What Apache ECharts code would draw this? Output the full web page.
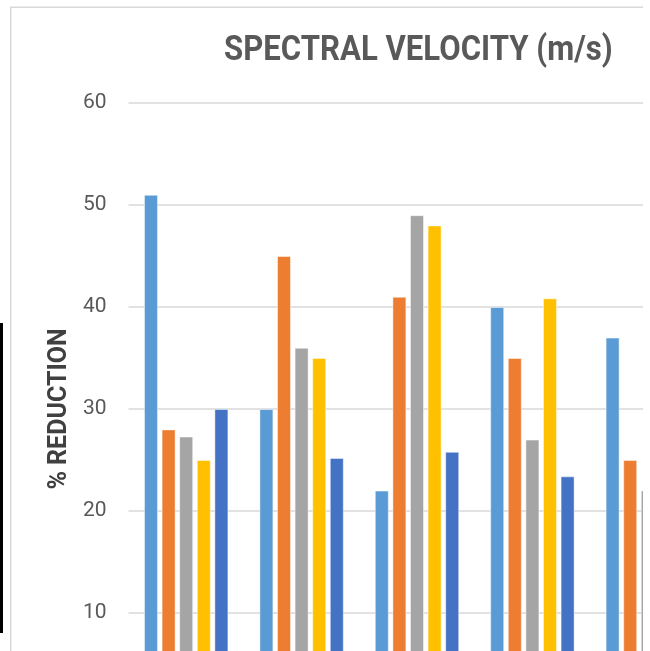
<!DOCTYPE html>
<html>
<head>
<meta charset="utf-8">
<script src="https://cdn.jsdelivr.net/npm/echarts@6/dist/echarts.min.js"></script>
<style>
  html, body { margin: 0; padding: 0; background: #fff; }
  #page { position: relative; width: 650px; height: 651px; overflow: hidden; background: #fff; }
  #clip { position: absolute; left: 0; top: 0; width: 643px; height: 651px; overflow: hidden; }
  #chart { position: absolute; left: 0; top: 0; width: 800px; height: 800px; }
</style>
</head>
<body>
<div id="page"><div id="clip"><div id="chart"></div></div></div>
<script>
// Treatment groups along the x axis
const categories = ['T1', 'T2', 'T3', 'T4', 'T5'];

// % reduction per series in each group
const seriesNames = ['S1', 'S2', 'S3', 'S4', 'S5'];
const series1 = [51, 30, 22, 40, 37];
const series2 = [28, 45, 41, 35, 25];
const series3 = [27.3, 36, 49, 27, 22];
const series4 = [25, 35, 48, 40.85, null];
const series5 = [30, 25.2, 25.8, 23.4, null];

const yTicks = [0, 10, 20, 30, 40, 50, 60];

const colors = ['#5B9BD5', '#ED7D31', '#A5A5A5', '#FFC000', '#4472C4'];
const values = [series1, series2, series3, series4, series5];

const chart = echarts.init(document.getElementById('chart'), null, { renderer: 'canvas' });

chart.setOption({
  animation: false,
  backgroundColor: '#fff',
  graphic: [
    {
      // chart frame
      type: 'rect',
      shape: { x: 10.75, y: 7.25, width: 900, height: 900 },
      style: { fill: 'none', stroke: '#d9d9d9', lineWidth: 1.5 },
      silent: true
    },
    {
      type: 'rect',
      shape: { x: 0, y: 323, width: 3, height: 310 },
      style: { fill: '#000' },
      silent: true
    },
    {
      // condensed bold title
      type: 'text',
      x: 224,
      y: 34,
      scaleX: 0.89,
      style: {
        text: 'SPECTRAL VELOCITY (m/s)',
        font: 'bold 35px Roboto, sans-serif',
        fill: '#595959',
        textAlign: 'left',
        textVerticalAlign: 'top'
      },
      silent: true
    }
  ],
  grid: { left: 128.5, top: 103, width: 577, height: 612 },
  xAxis: {
    type: 'category',
    data: categories,
    axisLine: { show: true, lineStyle: { color: '#d9d9d9' } },
    axisTick: { show: false },
    axisLabel: { color: '#595959', fontSize: 19 }
  },
  yAxis: {
    type: 'value',
    min: yTicks[0],
    max: yTicks[yTicks.length - 1],
    interval: 10,
    name: '% REDUCTION',
    nameLocation: 'middle',
    nameRotate: 90,
    nameGap: 53,
    nameTextStyle: {
      fontFamily: 'Roboto, sans-serif',
      fontWeight: 'bold',
      fontSize: 25,
      color: '#404040'
    },
    axisLine: { show: false },
    axisTick: { show: false },
    axisLabel: {
      margin: 22,
      fontFamily: 'Roboto, sans-serif',
      fontSize: 21,
      color: '#595959',
      formatter: v => (v === 0 ? '' : String(v))
    },
    splitLine: { lineStyle: { color: '#d9d9d9', width: 1.5 } }
  },
  series: values.map((data, i) => ({
    name: seriesNames[i],
    type: 'bar',
    data: data,
    barWidth: 14,
    barGap: '25.7%',
    itemStyle: {
      color: colors[i],
      borderColor: 'rgba(255,255,255,0.45)',
      borderWidth: 1
    }
  }))
});
</script>
</body>
</html>
